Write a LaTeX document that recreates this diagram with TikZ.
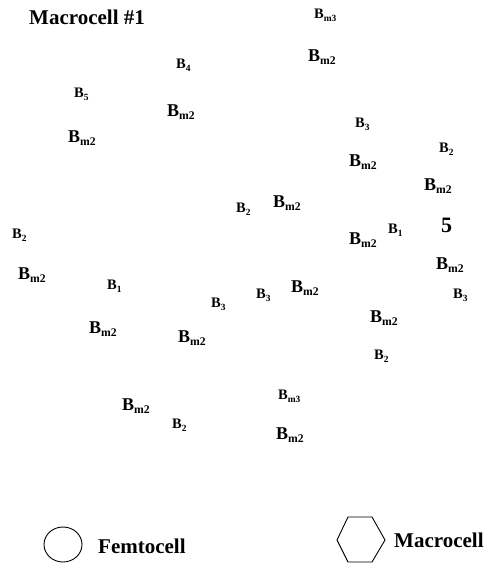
\documentclass[tikz,border=0pt]{standalone}
\usepackage{fontspec}
\setmainfont{Liberation Serif}
\usetikzlibrary{shapes.geometric}
\newcommand{\Bsub}[1]{B\raisebox{-0.22em}{\scalebox{0.65}{#1}}}
\tikzset{
  lbl/.style={anchor=base west,inner sep=0pt,
              font=\fontsize{14.5}{17}\selectfont\bfseries},
  biglbl/.style={lbl,font=\fontsize{18}{21}\selectfont\bfseries},
  title/.style={lbl,font=\fontsize{21}{24}\selectfont\bfseries},
  femto/.style={ellipse,draw=black,line width=0.9pt,minimum width=38pt,
                minimum height=35pt,inner sep=0pt},
}
\begin{document}
\begin{tikzpicture}[x=1pt,y=-1pt]
  \useasboundingbox (0,0) rectangle (485,563);
  \node[title] (mtitle) at (29,24) {Macrocell \#1};
  % B_m2 labels
  \foreach \x/\y [count=\i] in {308/61,167/116,68/142,349/166,424/190,273/207,
      349/244,18/279,436/269,291/292,370/322,89/333,178/342,122/410,276/439}{
    \node[biglbl] (bm2-\i) at (\x,\y) {\Bsub{m2}};
  }
  % other labels
  \foreach \x/\y/\t [count=\i] in {314/18/m3,176/68/4,74/97/5,355/127/3,439/152/2,
      236/212/2,12/238/2,388/233/1,107/289/1,211/307/3,256/298/3,453/298/3,
      374/359/2,278/399/m3,172/428/2}{
    \node[lbl] (b-\i) at (\x,\y) {\Bsub{\t}};
  }
  \node[lbl,font=\fontsize{22}{26}\selectfont\bfseries] (five) at (441,232) {5};
  % legend
  \node[femto] (femtosym) at (63,544.5) {};
  \node[title] (femtotxt) at (98,553) {Femtocell};
  \draw[line width=0.9pt] (337,540) coordinate (h1) -- (348,517) -- (372,517)
    -- (385,540) -- (372,562) -- (348,562) -- cycle;
  \node[title] (macrotxt) at (394,547) {Macrocell};
\end{tikzpicture}
\end{document}
